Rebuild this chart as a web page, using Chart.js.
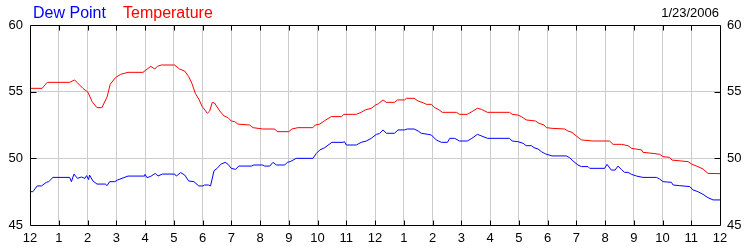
<!DOCTYPE html>
<html>
<head>
<meta charset="utf-8">
<script src="https://cdn.jsdelivr.net/npm/chart.js@4/dist/chart.umd.min.js"></script>
<style>
  html, body { margin: 0; padding: 0; background: #ffffff; }
  #wrap { width: 750px; height: 250px; position: relative; }
</style>
</head>
<body>
<div id="wrap"><canvas id="c" width="750" height="250"></canvas></div>
<script>
// ---- Data (hours since midnight, degrees F) ----
const tempHours = [0,0.42,0.6,1.38,1.55,1.84,2.02,2.16,2.33,2.5,2.68,2.79,2.97,3.15,3.41,3.93,4.2,4.34,4.43,4.57,5.03,5.2,5.38,5.52,5.63,5.75,5.87,5.99,6.17,6.25,6.34,6.42,6.6,6.75,6.89,7.0,7.12,7.23,7.64,7.76,8.1,8.51,8.6,9.0,9.11,9.32,9.84,9.92,10.08,10.25,10.48,10.83,10.92,11.35,11.52,11.66,11.87,12.02,12.12,12.28,12.39,12.68,12.78,13.03,13.09,13.36,13.5,13.67,13.79,13.96,14.08,14.23,14.34,14.83,14.94,15.21,15.37,15.56,15.7,15.91,16.68,16.77,16.97,17.09,17.26,17.58,17.7,17.88,17.96,18.16,18.6,18.71,18.85,19.0,19.18,19.58,20.16,20.28,20.57,20.8,20.92,21.27,21.32,21.67,21.9,22.02,22.25,22.33,22.89,23.03,23.23,23.41,23.58,24];
const tempValues = [55.25,55.25,55.7,55.7,55.88,55.25,54.95,54.25,53.8,53.8,54.6,55.55,56.05,56.3,56.45,56.45,56.9,56.7,56.9,57.0,57.0,56.7,56.55,56.13,55.63,54.87,54.45,53.88,53.38,53.55,54.2,54.15,53.55,53.18,53.05,52.8,52.75,52.57,52.5,52.3,52.2,52.2,52.0,52.0,52.2,52.3,52.3,52.5,52.57,52.83,53.13,53.13,53.3,53.3,53.45,53.63,53.75,54.0,54.1,54.38,54.2,54.2,54.38,54.38,54.5,54.5,54.3,54.17,54.05,54.05,53.8,53.63,53.45,53.45,53.3,53.3,53.5,53.75,53.68,53.45,53.45,53.3,53.25,53.13,52.88,52.8,52.63,52.5,52.3,52.25,52.2,52.05,51.95,51.68,51.38,51.3,51.3,51.05,51.05,50.95,50.75,50.63,50.45,50.37,50.3,50.13,50.07,49.87,49.75,49.55,49.38,49.2,48.87,48.85];

const dewHours = [0,0.1,0.25,0.4,0.57,0.65,0.8,1.38,1.44,1.53,1.65,1.79,1.91,1.97,2.04,2.07,2.19,2.33,2.62,2.68,2.77,2.95,3.04,3.2,3.41,3.99,4.0,4.07,4.2,4.36,4.45,4.6,5.03,5.09,5.24,5.38,5.52,5.7,5.87,6.02,6.07,6.21,6.28,6.4,6.51,6.63,6.79,6.89,7.0,7.15,7.26,7.7,7.79,8.1,8.16,8.34,8.45,8.57,8.86,8.95,9.05,9.15,9.26,9.84,9.96,10.08,10.25,10.5,10.89,10.94,11.0,11.35,11.52,11.7,11.87,12.05,12.15,12.28,12.39,12.68,12.8,13.03,13.12,13.36,13.5,13.61,13.84,13.96,14.13,14.31,14.52,14.6,14.77,14.94,15.21,15.37,15.56,15.7,15.91,16.68,16.77,16.97,17.15,17.26,17.44,17.53,17.67,17.79,17.93,18.16,18.65,18.77,18.89,19.06,19.18,19.41,19.47,19.99,20.07,20.22,20.35,20.45,20.57,20.68,20.8,20.92,21.1,21.32,21.79,21.9,22.02,22.31,22.37,22.6,22.95,23.06,23.23,23.41,23.58,23.76,24];
const dewValues = [47.5,47.5,47.93,47.93,48.2,48.25,48.57,48.57,48.25,48.82,48.5,48.6,48.5,48.7,48.4,48.75,48.3,48.07,48.07,47.95,48.25,48.25,48.37,48.5,48.67,48.67,48.8,48.55,48.65,48.87,48.67,48.82,48.82,48.67,48.93,48.75,48.3,48.25,47.93,47.93,48.0,48.0,47.93,49.07,49.25,49.55,49.7,49.55,49.25,49.17,49.42,49.42,49.5,49.5,49.42,49.42,49.7,49.5,49.5,49.7,49.75,49.87,50.0,50.0,50.37,50.63,50.8,51.2,51.2,51.25,51.0,51.0,51.2,51.3,51.5,51.8,51.85,52.13,51.88,51.88,52.13,52.13,52.2,52.2,52.05,51.88,51.8,51.75,51.38,51.2,51.2,51.5,51.5,51.3,51.3,51.5,51.8,51.68,51.5,51.5,51.3,51.25,51.13,50.95,50.95,50.8,50.7,50.5,50.33,50.18,50.18,50.05,49.8,49.5,49.38,49.38,49.25,49.25,49.55,49.12,49.12,49.42,49.17,48.95,48.95,48.8,48.67,48.57,48.57,48.45,48.25,48.2,48.0,47.95,47.88,47.63,47.5,47.3,47.05,46.88,46.88];

const hourLabels = ['12','1','2','3','4','5','6','7','8','9','10','11','12','1','2','3','4','5','6','7','8','9','10','11','12'];
const yTickValues = [45, 50, 55, 60];
const seriesNames = ['Dew Point', 'Temperature'];
const dateText = '1/23/2006';

const FONT = '"Liberation Sans", Arial, sans-serif';

const framePlugin = {
  id: 'frame',
  afterDraw(chart) {
    const ctx = chart.ctx;
    const a = chart.chartArea;
    const xs = chart.scales.x, ys = chart.scales.y;
    ctx.save();
    ctx.strokeStyle = '#000000';
    ctx.lineWidth = 1;
    ctx.beginPath();
    const L = Math.round(a.left) + 0.5, R = Math.round(a.right) + 0.5;
    const T = Math.round(a.top) + 0.5, B = Math.round(a.bottom) + 0.5;
    ctx.rect(L, T, R - L, B - T);
    // inward tick marks
    for (let h = 1; h < hourLabels.length - 1; h++) {
      const px = Math.round(xs.getPixelForValue(h)) + 0.5;
      ctx.moveTo(px, B); ctx.lineTo(px, B - 5);
      ctx.moveTo(px, T); ctx.lineTo(px, T + 5);
    }
    for (const v of yTickValues.slice(1, -1)) {
      const py = Math.round(ys.getPixelForValue(v)) + 0.5;
      ctx.moveTo(L, py); ctx.lineTo(L + 6, py);
      ctx.moveTo(R, py); ctx.lineTo(R - 6, py);
    }
    ctx.stroke();
    // legend and date text
    ctx.textBaseline = 'alphabetic';
    ctx.font = '16px ' + FONT;
    ctx.textAlign = 'left';
    ctx.fillStyle = '#0000ff';
    ctx.fillText(seriesNames[0], 33, 18);
    ctx.fillStyle = '#ff0000';
    ctx.fillText(seriesNames[1], 123, 18);
    ctx.font = '13px ' + FONT;
    ctx.fillStyle = '#000000';
    ctx.textAlign = 'right';
    ctx.fillText(dateText, 719, 17);
    ctx.restore();
  }
};

const toPts = (hs, vs) => hs.map((h, i) => ({ x: h, y: vs[i] }));

new Chart(document.getElementById('c'), {
  type: 'line',
  data: {
    datasets: [
      { label: seriesNames[0], data: toPts(dewHours, dewValues), borderColor: '#0000ff', borderWidth: 1, pointRadius: 0, tension: 0, fill: false },
      { label: seriesNames[1], data: toPts(tempHours, tempValues), borderColor: '#ff0000', borderWidth: 1, pointRadius: 0, tension: 0, fill: false }
    ]
  },
  options: {
    responsive: false,
    animation: false,
    events: [],
    layout: { padding: { top: 25, left: 0, right: 0, bottom: 0 } },
    plugins: { legend: { display: false }, title: { display: false }, tooltip: { enabled: false } },
    scales: {
      x: {
        type: 'linear', position: 'bottom', min: 0, max: 24,
        afterFit: s => { s.height = 25; },
        afterBuildTicks: s => { s.ticks = hourLabels.map((_, i) => ({ value: i })); },
        ticks: { autoSkip: false, maxRotation: 0, padding: 6, color: '#000000', font: { family: FONT, size: 13 }, callback: v => hourLabels[v] },
        grid: { color: '#cccccc', lineWidth: 1, drawTicks: false },
        border: { display: false }
      },
      y: {
        position: 'left', min: 45, max: 60,
        afterFit: s => { s.width = 30; },
        afterBuildTicks: s => { s.ticks = yTickValues.map(v => ({ value: v })); },
        ticks: { padding: 7, color: '#000000', font: { family: FONT, size: 13 } },
        grid: { color: '#cccccc', lineWidth: 1, drawTicks: false },
        border: { display: false }
      },
      y2: {
        position: 'right', min: 45, max: 60,
        afterFit: s => { s.width = 30; },
        afterBuildTicks: s => { s.ticks = yTickValues.map(v => ({ value: v })); },
        ticks: { padding: 7, color: '#000000', font: { family: FONT, size: 13 } },
        grid: { display: false, drawTicks: false },
        border: { display: false }
      }
    }
  },
  plugins: [framePlugin]
});
</script>
</body>
</html>
